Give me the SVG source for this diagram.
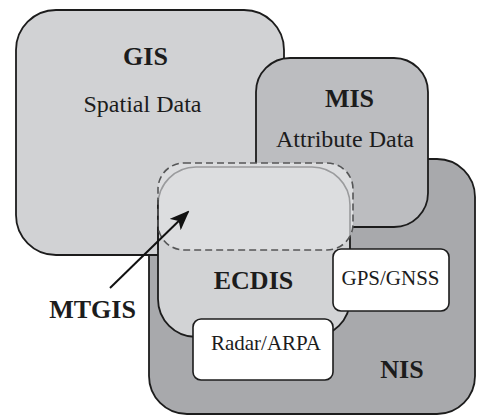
<svg xmlns="http://www.w3.org/2000/svg" width="478" height="416" viewBox="0 0 478 416">
  <style>
    .box { stroke: #1c1c1c; stroke-width: 1.8; }
    .dev { fill: #ffffff; stroke: #1c1c1c; stroke-width: 1.6; }
    .bold { font-family: "Liberation Serif", "Times New Roman", serif; font-weight: bold; font-size: 26px; fill: #1c1c1c; text-anchor: middle; }
    .reg { font-family: "Liberation Serif", "Times New Roman", serif; font-size: 24px; fill: #1c1c1c; text-anchor: middle; }
    .small { font-family: "Liberation Serif", "Times New Roman", serif; font-size: 21px; fill: #1c1c1c; text-anchor: middle; }
  </style>
  <defs>
    <marker id="arrowhead" markerWidth="10" markerHeight="8" refX="9" refY="4" orient="auto" markerUnits="strokeWidth">
      <path d="M0,0 L10,4 L0,8 L2.5,4 Z" fill="#111"/>
    </marker>
    <clipPath id="mtgisClip">
      <rect x="158" y="163" width="195" height="87" rx="26" ry="26"/>
    </clipPath>
  </defs>

  <rect width="478" height="416" fill="#ffffff"/>

  <!-- NIS (bottom layer) -->
  <g id="nis">
    <rect class="box" x="149" y="159" width="326" height="255" rx="38" ry="38" fill="#a8a9ac"/>
    <text class="bold" x="402" y="378">NIS</text>
  </g>

  <!-- GIS -->
  <g id="gis">
    <rect class="box" x="16" y="10" width="268" height="245" rx="40" ry="40" fill="#d1d2d4"/>
    <text class="bold" x="145.5" y="65">GIS</text>
    <text class="reg" x="142.5" y="112">Spatial Data</text>
  </g>

  <!-- MIS -->
  <g id="mis">
    <rect class="box" x="256" y="58" width="172" height="169" rx="34" ry="34" fill="#bcbdc0"/>
    <text class="bold" x="349.5" y="107">MIS</text>
    <text class="reg" x="345" y="147">Attribute Data</text>
  </g>

  <!-- ECDIS with the MTGIS overlap region on top -->
  <g id="ecdis">
    <rect class="box" x="158" y="167" width="192" height="170" rx="38" ry="38" fill="#d2d3d5"/>
    <text class="bold" x="253.5" y="289">ECDIS</text>
  </g>

  <g id="mtgis">
    <rect x="158" y="163" width="195" height="87" rx="26" ry="26" fill="#dcdddf"/>
    <rect x="158" y="167" width="192" height="170" rx="38" ry="38" fill="none" stroke="#9a9b9d" stroke-width="1.6" clip-path="url(#mtgisClip)"/>
    <line x1="158" y1="200" x2="158" y2="250" stroke="#1c1c1c" stroke-width="1.6"/>
    <rect x="158" y="163" width="195" height="87" rx="26" ry="26" fill="none" stroke="#555657" stroke-width="1.6" stroke-dasharray="7 4"/>
  </g>

  <!-- Sensor inputs -->
  <g id="gps">
    <rect class="dev" x="333" y="249" width="116" height="62" rx="8" ry="8"/>
    <text class="small" x="390.5" y="285">GPS/GNSS</text>
  </g>

  <g id="radar">
    <rect class="dev" x="193" y="319" width="140" height="61" rx="8" ry="8"/>
    <text class="small" x="266" y="350">Radar/ARPA</text>
  </g>

  <!-- Label and pointer -->
  <g id="mtgis-label">
    <text class="bold" x="92.5" y="318">MTGIS</text>
  </g>

  <g id="connectors">
    <line x1="110" y1="288" x2="188" y2="212" stroke="#111" stroke-width="2" marker-end="url(#arrowhead)"/>
  </g>
</svg>
